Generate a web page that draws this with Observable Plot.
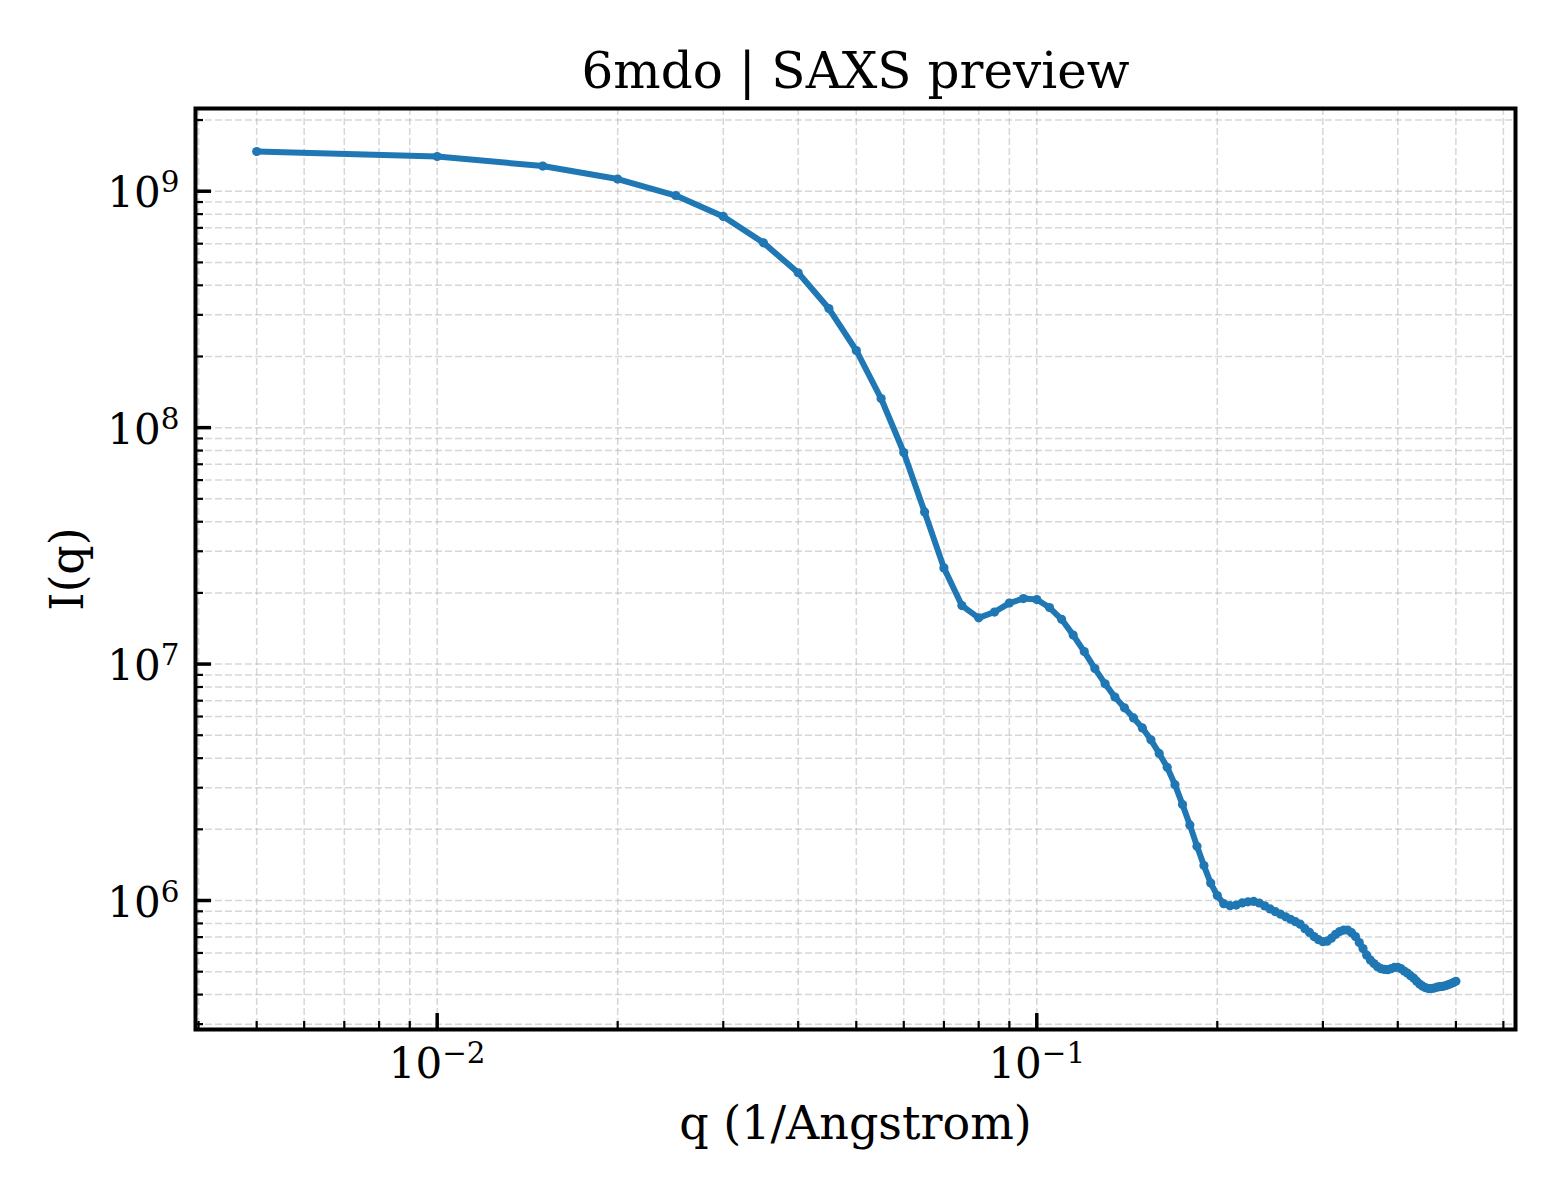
<!DOCTYPE html>
<html><head><meta charset="utf-8">
<script src="https://cdn.jsdelivr.net/npm/d3@7"></script>
<script src="https://cdn.jsdelivr.net/npm/@observablehq/plot@0.6"></script>
<style>html,body{margin:0;padding:0;background:#fff;overflow:hidden}</style>
</head><body><div id="chart"></div>
<script>
const title = "6mdo | SAXS preview";
const xLabel = "q (1/Angstrom)";
const yLabel = "I(q)";

const q = [0.005,0.010,0.015,0.020,0.025,0.030,0.035,0.040,0.045,0.050,
0.055,0.060,0.065,0.070,0.075,0.080,0.085,0.090,0.095,0.100,
0.105,0.110,0.115,0.120,0.125,0.130,0.135,0.140,0.145,0.150,
0.155,0.160,0.165,0.170,0.175,0.180,0.185,0.190,0.195,0.200,
0.205,0.210,0.215,0.220,0.225,0.230,0.235,0.240,0.245,0.250,
0.255,0.260,0.265,0.270,0.275,0.280,0.285,0.290,0.295,0.300,
0.305,0.310,0.315,0.320,0.325,0.330,0.335,0.340,0.345,0.350,
0.355,0.360,0.365,0.370,0.375,0.380,0.385,0.390,0.395,0.400,
0.405,0.410,0.415,0.420,0.425,0.430,0.435,0.440,0.445,0.450,
0.455,0.460,0.465,0.470,0.475,0.480,0.485,0.490,0.495,0.500];

const intensity = [1.472e9,1.402e9,1.278e9,1.126e9,9.59e8,7.82e8,6.05e8,4.52e8,3.19e8,2.12e8,
1.328e8,7.85e7,4.40e7,2.552e7,1.768e7,1.569e7,1.660e7,1.811e7,1.892e7,1.874e7,
1.734e7,1.546e7,1.326e7,1.129e7,9.57e6,8.25e6,7.25e6,6.53e6,5.92e6,5.37e6,
4.78e6,4.19e6,3.66e6,3.09e6,2.545e6,2.088e6,1.696e6,1.405e6,1.185e6,1.049e6,
9.70e5,9.51e5,9.56e5,9.77e5,9.87e5,9.91e5,9.76e5,9.49e5,9.21e5,8.97e5,
8.75e5,8.53e5,8.33e5,8.14e5,7.94e5,7.60e5,7.33e5,7.04e5,6.83e5,6.70e5,
6.73e5,6.93e5,7.19e5,7.39e5,7.50e5,7.50e5,7.31e5,7.04e5,6.64e5,6.26e5,
5.87e5,5.60e5,5.41e5,5.25e5,5.15e5,5.11e5,5.10e5,5.15e5,5.21e5,5.22e5,
5.15e5,5.03e5,4.93e5,4.81e5,4.70e5,4.56e5,4.43e5,4.34e5,4.28e5,4.24e5,
4.24e5,4.26e5,4.30e5,4.32e5,4.33e5,4.36e5,4.40e5,4.44e5,4.49e5,4.55e5];

const xDomain = [3.953e-3, 0.6286];
const yDomain = [2.847e5, 2.238e9];
const xMajorTicks = [0.01, 0.1];
const xTickLabels = ["10^\u22122", "10^\u22121"];
const xMinorTicks = [0.004,0.005,0.006,0.007,0.008,0.009,
  0.02,0.03,0.04,0.05,0.06,0.07,0.08,0.09,
  0.2,0.3,0.4,0.5,0.6];
const yMajorTicks = [1e6, 1e7, 1e8, 1e9];
const yTickLabels = ["10^6", "10^7", "10^8", "10^9"];
const yMinorTicks = [3e5,4e5,5e5,6e5,7e5,8e5,9e5,
  2e6,3e6,4e6,5e6,6e6,7e6,8e6,9e6,
  2e7,3e7,4e7,5e7,6e7,7e7,8e7,9e7,
  2e8,3e8,4e8,5e8,6e8,7e8,8e8,9e8,
  2e9];

const data = q.map((v, i) => ({q: v, I: intensity[i]}));

const W = 1560, H = 1200, mT = 108, mB = 171, mL = 195, mR = 45;
const frameW = W - mL - mR, frameH = H - mT - mB;
const FONT = "'DejaVu Serif', serif";
const fmt = (ticks, labels) => (d) => labels[ticks.indexOf(d)];
const gridStyle = {stroke: "#b0b0b0", strokeOpacity: 0.5, strokeWidth: 1.5, strokeDasharray: "7,3"};

const plot = Plot.plot({
  width: W, height: H,
  marginTop: mT, marginBottom: mB, marginLeft: mL, marginRight: mR,
  style: {fontFamily: FONT, background: "#fff", color: "#000", overflow: "visible"},
  x: {type: "log", domain: xDomain},
  y: {type: "log", domain: yDomain},
  marks: [
    Plot.ruleX(xMinorTicks.concat(xMajorTicks), {x: d => d, ...gridStyle}),
    Plot.ruleY(yMinorTicks.concat(yMajorTicks), {y: d => d, ...gridStyle}),
    Plot.line(data, {x: "q", y: "I", stroke: "#1f77b4", strokeWidth: 6, curve: "linear"}),
    Plot.dot(data, {x: "q", y: "I", r: 4.6, fill: "#1f77b4"}),
    Plot.tickX(xMajorTicks, {x: d => d, insetTop: frameH - 16, stroke: "#000", strokeWidth: 3.5}),
    Plot.tickX(xMinorTicks, {x: d => d, insetTop: frameH - 8, stroke: "#000", strokeWidth: 2.2}),
    Plot.tickY(yMajorTicks, {y: d => d, insetRight: frameW - 16, stroke: "#000", strokeWidth: 3.5}),
    Plot.tickY(yMinorTicks, {y: d => d, insetRight: frameW - 8, stroke: "#000", strokeWidth: 2.2}),
    Plot.frame({stroke: "#000", strokeWidth: 4}),
    Plot.axisX({ticks: xMajorTicks, tickSize: 0, tickPadding: 19, fontSize: 42, fontFamily: FONT, tickFormat: fmt(xMajorTicks, xTickLabels), label: null}),
    Plot.axisY({ticks: yMajorTicks, tickSize: 0, tickPadding: 16, dy: 2.6, fontSize: 42, fontFamily: FONT, tickFormat: fmt(yMajorTicks, yTickLabels), label: null}),
    Plot.text([title], {text: d => d, frameAnchor: "top", textAnchor: "middle", lineAnchor: "bottom", dy: -21, fontSize: 50, fontFamily: FONT, fill: "#000"}),
    Plot.text([xLabel], {text: d => d, frameAnchor: "bottom", textAnchor: "middle", lineAnchor: "bottom", dy: 109, fontSize: 46, fontFamily: FONT, fill: "#000"}),
    Plot.text([yLabel], {text: d => d, frameAnchor: "left", textAnchor: "middle", lineAnchor: "bottom", rotate: -90, dx: -113, fontSize: 46, fontFamily: FONT, fill: "#000"})
  ]
});

// render "10^k" tick labels with a real superscript
plot.querySelectorAll("text").forEach((t) => {
  const m = /^10\^(.+)$/.exec(t.textContent);
  if (!m) return;
  t.textContent = "10";
  const ts = document.createElementNS("http://www.w3.org/2000/svg", "tspan");
  ts.setAttribute("font-size", "29.4");
  ts.setAttribute("dy", "-15");
  ts.textContent = m[1];
  t.appendChild(ts);
});

document.getElementById("chart").appendChild(plot);
</script>
</body></html>
